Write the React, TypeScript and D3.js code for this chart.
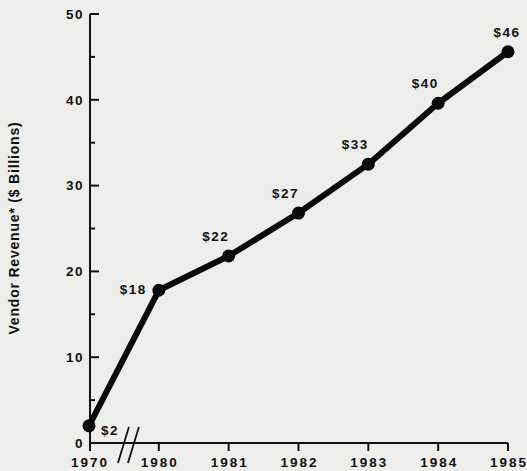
import React from 'react'
import * as d3 from 'd3'

const WIDTH = 527
const HEIGHT = 471
const LEFT = 90
const RIGHT = 508
const TOP = 14
const BOTTOM = 443

const years = ['1970', '1980', '1981', '1982', '1983', '1984', '1985']
const revenue = [2, 17.8, 21.8, 26.8, 32.5, 39.6, 45.6]
const valueLabels = ['$2', '$18', '$22', '$27', '$33', '$40', '$46']
const majorTicks = [0, 10, 20, 30, 40, 50]
const minorTicks = [5, 15, 25, 35, 45]

const FONT = '"Liberation Sans", Arial, sans-serif'

export default function App() {
  const x = d3.scalePoint<string>().domain(years).range([LEFT - 1, RIGHT])
  const y = d3.scaleLinear().domain([0, 50]).range([BOTTOM, TOP])

  const points = years.map((yr, i) => ({ year: yr, value: revenue[i], label: valueLabels[i] }))

  const line = d3.line<{ year: string; value: number }>()
    .x(d => x(d.year)!)
    .y(d => y(d.value))

  // where each value label sits relative to its point
  const labelPos = (i: number, px: number, py: number) => {
    if (i === 0) return { x: px + 12, y: py + 4, anchor: 'start' }
    if (i === 1) return { x: px - 12, y: py - 1, anchor: 'end' }
    if (i === points.length - 1) return { x: px - 1, y: py - 19, anchor: 'middle' }
    return { x: px - 13, y: py - 20, anchor: 'middle' }
  }

  const breakX = (x('1970')! + x('1980')!) / 2

  return (
    <svg width={WIDTH} height={HEIGHT}
      style={{ position: 'absolute', left: 0, top: 0, background: '#ededeb' }}>
      <rect width={WIDTH} height={HEIGHT} fill="#ededeb" />

      {/* y axis */}
      <line x1={LEFT} x2={LEFT} y1={y(50)} y2={BOTTOM + 8} stroke="#111" strokeWidth={2} />
      {majorTicks.map(t => (
        <g key={t}>
          <line x1={LEFT} x2={LEFT + 9} y1={y(t)} y2={y(t)} stroke="#111" strokeWidth={2} />
          <text x={LEFT - 6} y={y(t)} dy="0.35em" textAnchor="end"
            fontFamily={FONT} fontWeight="bold" fontSize={13.5} letterSpacing={1.5} fill="#111">{t}</text>
        </g>
      ))}
      {minorTicks.map(t => (
        <line key={t} x1={LEFT} x2={LEFT + 5} y1={y(t)} y2={y(t)} stroke="#111" strokeWidth={2} />
      ))}
      <text transform={`translate(19,228) rotate(-90)`} textAnchor="middle"
        fontFamily={FONT} fontWeight="bold" fontSize={14} letterSpacing={0.8} fill="#111">
        Vendor Revenue* ($ Billions)
      </text>

      {/* x axis */}
      <line x1={LEFT} x2={RIGHT} y1={BOTTOM} y2={BOTTOM} stroke="#111" strokeWidth={2} />
      {years.map(yr => (
        <g key={yr}>
          {yr !== '1970' && (
            <line x1={x(yr)} x2={x(yr)} y1={BOTTOM} y2={BOTTOM + 8} stroke="#111" strokeWidth={2} />
          )}
          <text x={x(yr)! + 1} y={BOTTOM + 24} textAnchor="middle"
            fontFamily={FONT} fontWeight="bold" fontSize={13.5} letterSpacing={2} fill="#111">{yr}</text>
        </g>
      ))}
      {[0, 10].map(off => (
        <line key={off} x1={breakX - 6 + off} y1={BOTTOM + 20} x2={breakX + 5 + off} y2={BOTTOM - 16}
          stroke="#111" strokeWidth={1.8} />
      ))}

      {/* series */}
      <path d={line(points)!} fill="none" stroke="#0b0b0b" strokeWidth={6} strokeLinejoin="round" />
      {points.map((d, i) => {
        const px = x(d.year)!
        const py = y(d.value)
        const lp = labelPos(i, px, py)
        return (
          <g key={d.year}>
            <circle cx={px} cy={py} r={6.5} fill="#0b0b0b" />
            <text x={lp.x} y={lp.y} dy="0.35em" textAnchor={lp.anchor as any}
              fontFamily={FONT} fontWeight="bold" fontSize={13.5} letterSpacing={1.5} fill="#111">{d.label}</text>
          </g>
        )
      })}
    </svg>
  )
}
